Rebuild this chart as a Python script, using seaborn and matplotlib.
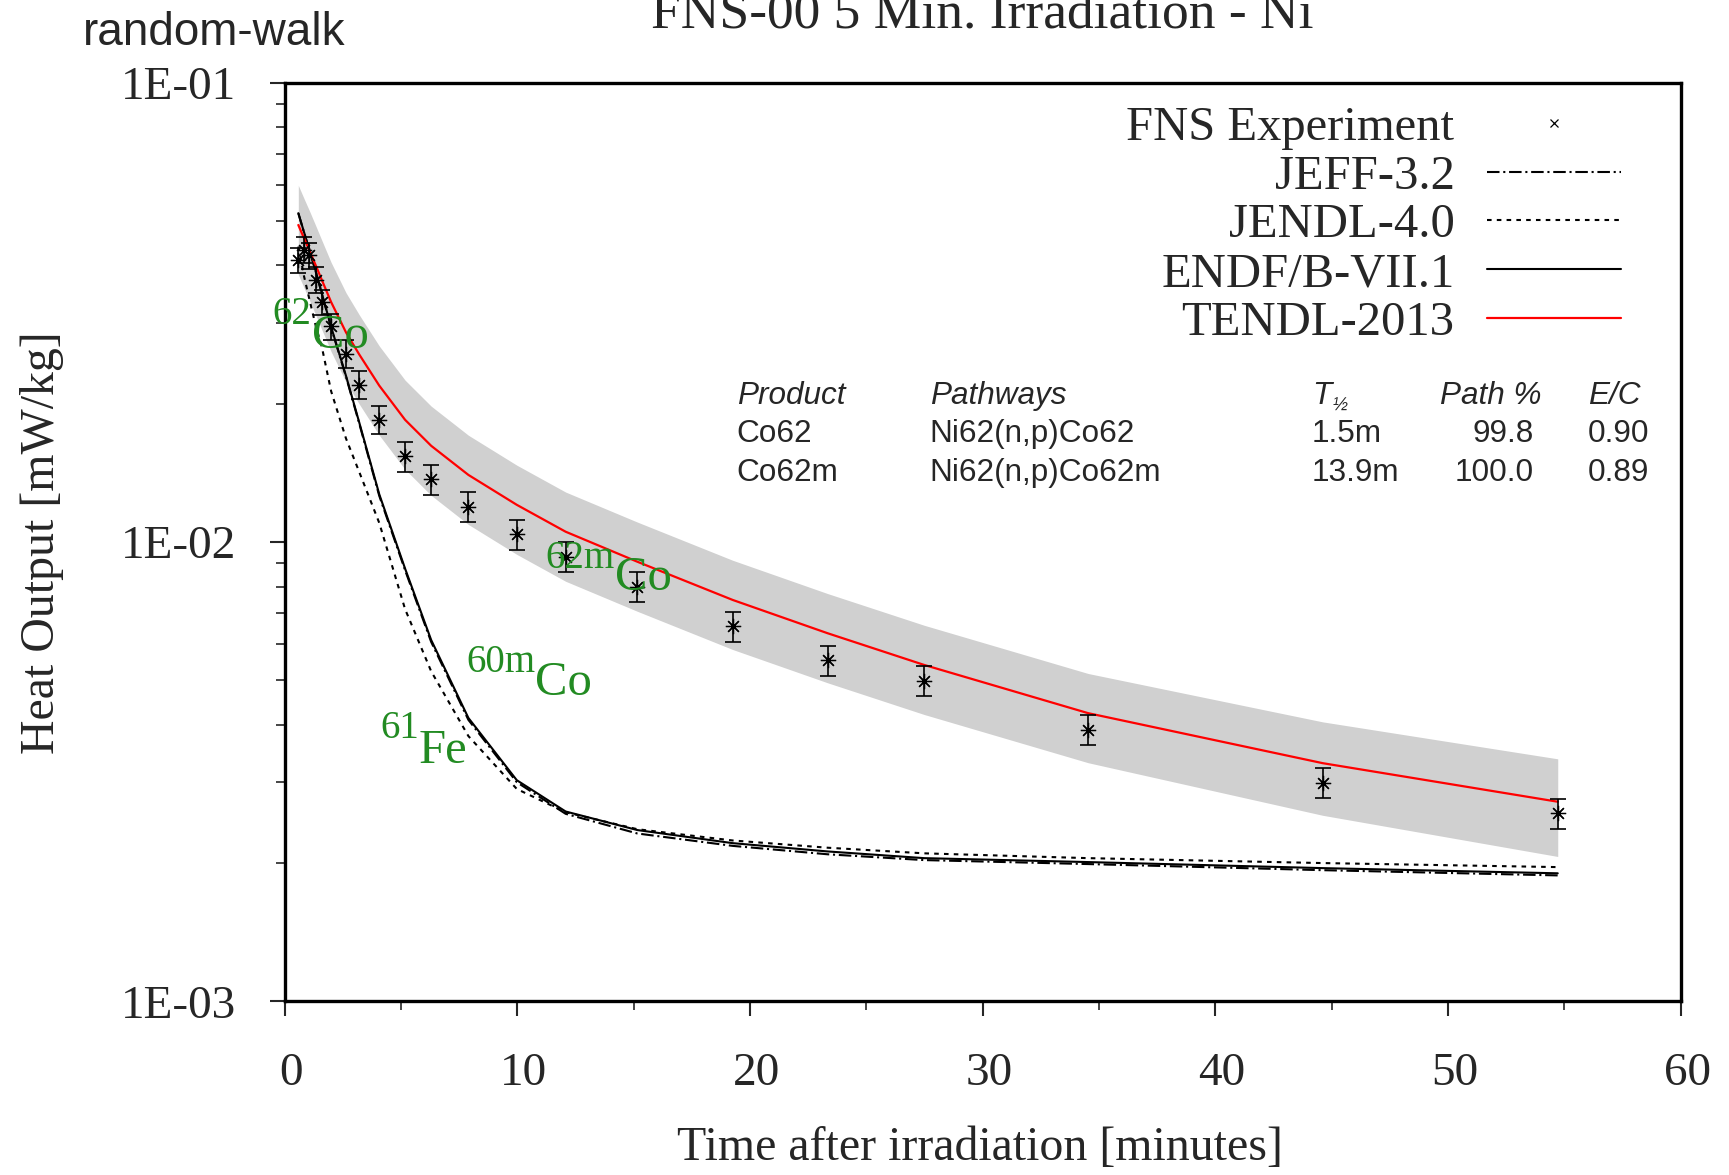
import numpy as np
import pandas as pd
import matplotlib
matplotlib.use("Agg")
import matplotlib.pyplot as plt
import matplotlib.transforms as mtransforms
from matplotlib.lines import Line2D
from matplotlib.ticker import LogLocator, MultipleLocator, FuncFormatter, NullFormatter, FixedLocator
import seaborn as sns

# ---------------- data ----------------
time_min = [0.59, 0.84, 1.07, 1.35, 1.60, 2.00, 2.64, 3.21, 4.07, 5.18, 6.30,
            7.90, 9.98, 12.08, 15.16, 19.26, 23.34, 27.49, 34.54, 44.62, 54.72]

fns_exp = [0.0411, 0.0433, 0.0421, 0.0372, 0.0333, 0.0295, 0.0257, 0.0220,
           0.01845, 0.01538, 0.01369, 0.01194, 0.01040, 0.00929, 0.00800,
           0.00656, 0.00553, 0.00499, 0.00390, 0.00299, 0.00257]
fns_err_frac = [0.065, 0.065, 0.065, 0.065, 0.065, 0.065, 0.070, 0.070, 0.070,
                0.075, 0.075, 0.075, 0.075, 0.075, 0.075, 0.075, 0.075, 0.075,
                0.075, 0.075, 0.075]

endf71 = [0.0520, 0.0472, 0.0432, 0.0387, 0.0348, 0.0294, 0.0230, 0.0182,
          0.0127, 0.00875, 0.00612, 0.00414, 0.00303, 0.00259, 0.00236,
          0.00221, 0.00212, 0.00205, 0.00201, 0.00195, 0.00190]
jeff32 = [0.0520, 0.0471, 0.0431, 0.0386, 0.0347, 0.0293, 0.0229, 0.0181,
          0.0126, 0.00868, 0.00606, 0.00410, 0.00300, 0.00256, 0.00232,
          0.00218, 0.00209, 0.00203, 0.00199, 0.00193, 0.00188]
jendl40 = [0.0440, 0.0378, 0.0337, 0.0294, 0.0266, 0.0213, 0.0168, 0.0142,
           0.0110, 0.00714, 0.00523, 0.00378, 0.00290, 0.00258, 0.00237,
           0.00224, 0.00216, 0.00210, 0.00205, 0.00200, 0.00196]
tendl2013 = [0.0490, 0.0458, 0.0431, 0.0399, 0.0372, 0.0333, 0.0286, 0.0256,
             0.0219, 0.01845, 0.0162, 0.0140, 0.01205, 0.01053, 0.00906,
             0.00748, 0.00633, 0.00540, 0.00424, 0.00330, 0.00272]
tendl_unc_frac = [0.22, 0.22, 0.22, 0.22, 0.22, 0.22, 0.22, 0.22, 0.22, 0.22,
                  0.22, 0.22, 0.22, 0.22, 0.22, 0.22, 0.22, 0.22, 0.22, 0.23, 0.24]

legend_labels = ["FNS Experiment", "JEFF-3.2", "JENDL-4.0", "ENDF/B-VII.1", "TENDL-2013"]

table_header = ["Product", "Pathways", "T", "Path %", "E/C"]
table_products = ["Co62", "Co62m"]
table_pathways = ["Ni62(n,p)Co62", "Ni62(n,p)Co62m"]
table_halflife = ["1.5m", "13.9m"]
table_pathpct = ["99.8", "100.0"]
table_ec = ["0.90", "0.89"]

y_ticks = [1e-3, 1e-2, 1e-1]
x_ticks = [0, 10, 20, 30, 40, 50, 60]

# ---------------- style ----------------
sns.set_style("white")
plt.rcParams["font.family"] = ["Liberation Serif", "DejaVu Serif"]

SERIF = ["Liberation Serif", "DejaVu Serif"]
SANS = ["Liberation Sans", "DejaVu Sans"]
GREEN = "#228b22"

fig = plt.figure(figsize=(17.29, 11.75), dpi=100)
ax = fig.add_axes([0.1646, 0.1478, 0.8074, 0.7818])
ax.set_yscale("log")

t = np.array(time_min)
tendl = np.array(tendl2013)
unc = np.array(tendl_unc_frac)

# uncertainty band around TENDL
ax.fill_between(t, tendl * (1 - unc), tendl * (1 + unc), color="#d0d0d0",
                linewidth=0, zorder=1)

# calculations
sns.lineplot(x=time_min, y=jeff32, ax=ax, color="black", lw=1.5,
             linestyle=(0, (6, 1.8, 1, 1.8)), estimator=None, sort=False, zorder=3)
sns.lineplot(x=time_min, y=jendl40, ax=ax, color="black", lw=1.5,
             linestyle=(0, (2.2, 2.5)), estimator=None, sort=False, zorder=3)
sns.lineplot(x=time_min, y=endf71, ax=ax, color="black", lw=1.5,
             linestyle="-", estimator=None, sort=False, zorder=3)
sns.lineplot(x=time_min, y=tendl2013, ax=ax, color="red", lw=1.6,
             linestyle="-", estimator=None, sort=False, zorder=4)

# experiment
exp = np.array(fns_exp)
err = exp * np.array(fns_err_frac)
ax.errorbar(t, exp, yerr=err, fmt="none", ecolor="black", elinewidth=1.2,
            capsize=6, capthick=1.2, zorder=5)
ax.plot(t, exp, linestyle="none", marker=(8, 2, 0), markersize=11,
        markeredgewidth=0.9, color="black", zorder=6)

# axes
ax.set_xlim(0, 60)
ax.set_ylim(1e-3, 1e-1)
ax.xaxis.set_major_locator(FixedLocator(x_ticks))
ax.xaxis.set_minor_locator(MultipleLocator(5))
ax.yaxis.set_major_locator(FixedLocator(y_ticks))
ax.yaxis.set_minor_locator(LogLocator(base=10, subs=np.arange(2, 10)))
ax.yaxis.set_minor_formatter(NullFormatter())
ax.yaxis.set_major_formatter(FuncFormatter(lambda v, p: "1E-%02d" % int(round(-np.log10(v)))))
ax.xaxis.set_major_formatter(FuncFormatter(lambda v, p: "%d" % v))

ax.tick_params(axis="both", which="major", direction="out", length=11, width=1.5,
               labelsize=34, top=False, right=False, bottom=True, left=True)
ax.tick_params(axis="both", which="minor", direction="out", length=6.5, width=1.2,
               top=False, right=False, bottom=True, left=True)
ax.tick_params(axis="y", which="major", pad=24)
ax.tick_params(axis="x", which="major", pad=26)
shift = mtransforms.ScaledTranslation(0.066, 0, fig.dpi_scale_trans)
for lab in ax.get_xticklabels():
    lab.set_fontfamily(SERIF)
    lab.set_transform(lab.get_transform() + shift)
for lab in ax.get_yticklabels():
    lab.set_fontfamily(SERIF)

for s in ax.spines.values():
    s.set_visible(True)
    s.set_color("black")
    s.set_linewidth(2.4)
ax.grid(False)
ax.set_xlabel("")
ax.set_ylabel("")

# labels
fig.text(0.567, 0.0232, "Time after irradiation [minutes]", fontsize=34.5,
         family=SERIF, ha="center", va="center")
fig.text(0.0243, 0.5379, "Heat Output [mW/kg]", fontsize=34.5, family=SERIF,
         rotation=90, ha="center", va="center")
fig.text(0.5683, 0.9764, "FNS-00 5 Min. Irradiation - Ni", fontsize=38.5,
         family=SERIF, ha="center", va="baseline")
fig.text(0.048, 0.9617, "random-walk", fontsize=33, family=SANS,
         ha="left", va="baseline")

# legend
handles = [
    Line2D([], [], color="black", marker="x", linestyle="none", markersize=6,
           markeredgewidth=0.9),
    Line2D([], [], color="black", lw=1.5, linestyle=(0, (6, 1.8, 1, 1.8))),
    Line2D([], [], color="black", lw=1.5, linestyle=(0, (2.2, 2.5))),
    Line2D([], [], color="black", lw=1.5, linestyle="-"),
    Line2D([], [], color="red", lw=1.6, linestyle="-"),
]
leg = ax.legend(handles, legend_labels, loc="upper right",
                bbox_to_anchor=(0.9574, 0.975), borderaxespad=0, borderpad=0,
                frameon=False, markerfirst=False, handlelength=2.75,
                handletextpad=0.68, labelspacing=0.1,
                prop={"family": SERIF, "size": 35})

# table of pathways
cols_x = [0.3239, 0.4621, 0.7360, 0.9005, 0.9337]
hdr_y = 0.6507
row_y = [0.6086, 0.5666]
tfs = 22.7
ax.text(cols_x[0], hdr_y, table_header[0], transform=ax.transAxes, fontsize=tfs,
        family=SANS, style="italic", ha="left", va="baseline")
ax.text(cols_x[1], hdr_y, table_header[1], transform=ax.transAxes, fontsize=tfs,
        family=SANS, style="italic", ha="left", va="baseline")
ax.text(cols_x[2], hdr_y, table_header[2], transform=ax.transAxes, fontsize=tfs,
        family=SANS, style="italic", ha="left", va="baseline")
ax.text(0.7504, 0.6426, "\u00bd", transform=ax.transAxes, fontsize=13,
        family=SANS, style="italic", ha="left", va="baseline")
ax.text(cols_x[3], hdr_y, table_header[3], transform=ax.transAxes, fontsize=tfs,
        family=SANS, style="italic", ha="right", va="baseline")
ax.text(cols_x[4], hdr_y, table_header[4], transform=ax.transAxes, fontsize=tfs,
        family=SANS, style="italic", ha="left", va="baseline")
for i, y in enumerate(row_y):
    ax.text(cols_x[0], y, table_products[i], transform=ax.transAxes, fontsize=tfs,
            family=SANS, ha="left", va="baseline")
    ax.text(cols_x[1], y, table_pathways[i], transform=ax.transAxes, fontsize=tfs,
            family=SANS, ha="left", va="baseline")
    ax.text(cols_x[2], y, table_halflife[i], transform=ax.transAxes, fontsize=tfs,
            family=SANS, ha="left", va="baseline")
    ax.text(0.8951, y, table_pathpct[i], transform=ax.transAxes, fontsize=tfs,
            family=SANS, ha="right", va="baseline")
    ax.text(cols_x[4], y, table_ec[i], transform=ax.transAxes, fontsize=tfs,
            family=SANS, ha="left", va="baseline")

# nuclide annotations (superscript mass number + element)
iso_labels = [("62", "Co", (-0.507, 0.02982), (1.168, 0.02645)),
              ("62m", "Co", (11.19, 0.008768), (14.20, 0.007862)),
              ("60m", "Co", (7.83, 0.005219), (10.765, 0.004643)),
              ("61", "Fe", (4.13, 0.003738), (5.776, 0.003298))]
for sup, el, p_sup, p_el in iso_labels:
    ax.text(p_sup[0], p_sup[1], sup, fontsize=28, color=GREEN, family=SERIF,
            ha="left", va="baseline", zorder=7, clip_on=False)
    ax.text(p_el[0], p_el[1], el, fontsize=35, color=GREEN, family=SERIF,
            ha="left", va="baseline", zorder=7, clip_on=False)

fig.savefig("out.png", dpi=100)
